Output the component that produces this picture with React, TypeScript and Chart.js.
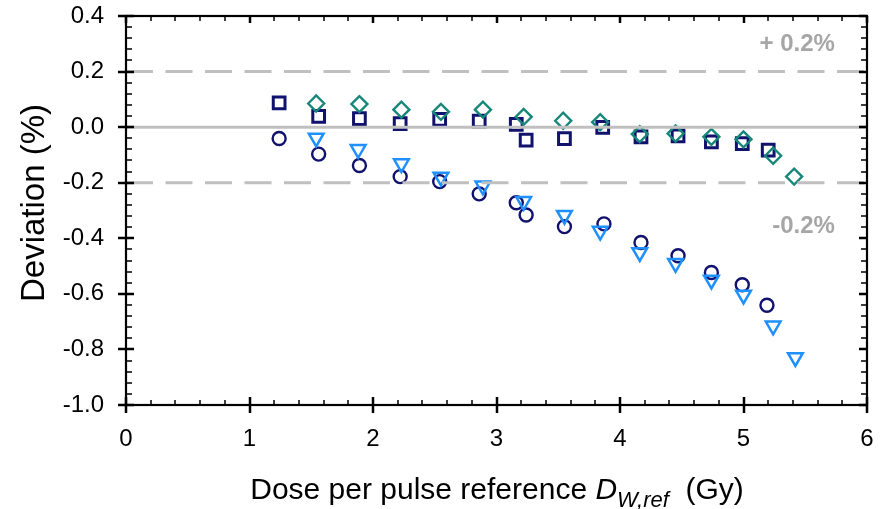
import React, { useEffect, useRef } from "react";
import { Chart, registerables } from "chart.js";
Chart.register(...registerables);

// ---- data ----
const xTicks = [0, 1, 2, 3, 4, 5, 6];
const yTicks = [0.4, 0.2, 0.0, -0.2, -0.4, -0.6, -0.8, -1.0];

const squaresX = [1.24, 1.56, 1.89, 2.22, 2.54, 2.86, 3.16, 3.24, 3.55, 3.86, 4.17, 4.47, 4.74, 4.99, 5.2];
const squaresY = [0.087, 0.039, 0.031, 0.013, 0.028, 0.022, 0.01, -0.047, -0.041, -0.001, -0.035, -0.031, -0.053, -0.059, -0.083];

const diamondsX = [1.54, 1.89, 2.23, 2.55, 2.89, 3.22, 3.54, 3.84, 4.16, 4.45, 4.74, 5.0, 5.24, 5.41];
const diamondsY = [0.085, 0.083, 0.063, 0.055, 0.063, 0.037, 0.023, 0.018, -0.025, -0.023, -0.035, -0.044, -0.103, -0.178];

const circlesX = [1.24, 1.56, 1.89, 2.22, 2.54, 2.86, 3.16, 3.24, 3.55, 3.87, 4.17, 4.47, 4.74, 4.99, 5.19];
const circlesY = [-0.041, -0.097, -0.138, -0.178, -0.196, -0.24, -0.272, -0.316, -0.358, -0.348, -0.415, -0.463, -0.523, -0.567, -0.641];

const trianglesX = [1.54, 1.88, 2.23, 2.55, 2.89, 3.22, 3.55, 3.84, 4.16, 4.45, 4.74, 5.0, 5.24, 5.42];
const trianglesY = [-0.039, -0.08, -0.131, -0.179, -0.211, -0.267, -0.317, -0.374, -0.451, -0.49, -0.55, -0.604, -0.715, -0.829];

const refLines = [0.2, 0.0, -0.2];
const refLabels = ["+ 0.2%", "-0.2%"];

const xTitleParts = ["Dose per pulse reference ", "D", "W,ref", "  (Gy)"];
const yTitle = "Deviation (%)";

const FONT = '"Liberation Sans", Arial, sans-serif';

const toPts = (xs: number[], ys: number[]) => xs.map((x, i) => ({ x, y: ys[i] }));

const framePlugin = {
  id: "frameDecor",
  afterDatasetsDraw(chart: any) {
    const ctx = chart.ctx as CanvasRenderingContext2D;
    const { left, right, top, bottom } = chart.chartArea;
    const xs = chart.scales.x;
    const ys = chart.scales.y;
    ctx.save();

    // reference lines
    ctx.strokeStyle = "#c0c0c0";
    ctx.lineWidth = 3;
    refLines.forEach((v) => {
      const py = ys.getPixelForValue(v);
      ctx.setLineDash(v === 0 ? [] : [27, 12.5]);
      ctx.beginPath();
      ctx.moveTo(left, py);
      ctx.lineTo(right, py);
      ctx.stroke();
    });
    ctx.setLineDash([]);

    // reference labels
    ctx.fillStyle = "#a6a6a6";
    ctx.font = `bold 24px ${FONT}`;
    ctx.textAlign = "right";
    ctx.textBaseline = "middle";
    ctx.fillText(refLabels[0], xs.getPixelForValue(5.74), ys.getPixelForValue(0.299));
    ctx.fillText(refLabels[1], xs.getPixelForValue(5.74), ys.getPixelForValue(-0.356));

    // frame
    ctx.strokeStyle = "#000";
    ctx.lineWidth = 2.2;
    ctx.strokeRect(left, top, right - left, bottom - top);

    // x ticks
    const xMin = xs.min, xMax = xs.max;
    const nx = Math.round((xMax - xMin) / 0.2);
    for (let i = 0; i <= nx; i++) {
      const v = xMin + i * 0.2;
      const px = Math.round(xs.getPixelForValue(v));
      const major = i % 5 === 0;
      ctx.lineWidth = major ? 2.5 : 1.5;
      ctx.beginPath();
      if (major) {
        ctx.moveTo(px, bottom - 8); ctx.lineTo(px, bottom + 8);
        ctx.moveTo(px, top); ctx.lineTo(px, top + 7);
      } else {
        ctx.moveTo(px, bottom - 5); ctx.lineTo(px, bottom);
        ctx.moveTo(px, top); ctx.lineTo(px, top + 5);
      }
      ctx.stroke();
    }
    // y ticks
    const yMin = ys.min, yMax = ys.max;
    const ny = Math.round((yMax - yMin) / 0.04);
    for (let i = 0; i <= ny; i++) {
      const v = yMin + i * 0.04;
      const py = Math.round(ys.getPixelForValue(v));
      const major = i % 5 === 0;
      ctx.lineWidth = major ? 2.5 : 1.5;
      ctx.beginPath();
      if (major) {
        ctx.moveTo(left - 8, py); ctx.lineTo(left + 8, py);
        ctx.moveTo(right - 8, py); ctx.lineTo(right, py);
      } else {
        ctx.moveTo(left, py); ctx.lineTo(left + 6, py);
        ctx.moveTo(right - 6, py); ctx.lineTo(right, py);
      }
      ctx.stroke();
    }

    // x title with italic subscript
    ctx.fillStyle = "#000";
    ctx.textAlign = "left";
    ctx.textBaseline = "alphabetic";
    const fN = `30px ${FONT}`;
    const fI = `italic 30px ${FONT}`;
    const fS = `italic 22px ${FONT}`;
    const parts = [
      { t: xTitleParts[0], f: fN, dy: 0 },
      { t: xTitleParts[1], f: fI, dy: 0 },
      { t: xTitleParts[2], f: fS, dy: 8 },
      { t: xTitleParts[3], f: fN, dy: 0 },
    ];
    let total = 0;
    parts.forEach((p) => { ctx.font = p.f; total += ctx.measureText(p.t).width; });
    const cx = 497;
    let x = cx - total / 2;
    const baseY = 499;
    parts.forEach((p) => {
      ctx.font = p.f;
      ctx.fillText(p.t, x, baseY + p.dy);
      x += ctx.measureText(p.t).width;
    });

    // y title
    ctx.save();
    ctx.translate(35, 203);
    ctx.rotate(-Math.PI / 2);
    ctx.textAlign = "center";
    ctx.textBaseline = "middle";
    ctx.font = `33px ${FONT}`;
    ctx.fillText(yTitle, 0, 0);
    ctx.restore();

    ctx.restore();
  },
};

export default function App() {
  const ref = useRef<HTMLCanvasElement | null>(null);
  useEffect(() => {
    if (!ref.current) return;
    const navy = "#11116e";
    const chart = new Chart(ref.current, {
      type: "scatter",
      data: {
        datasets: [
          {
            label: "triangles",
            data: toPts(trianglesX, trianglesY),
            pointStyle: "triangle",
            rotation: 180,
            radius: 8.5,
            borderColor: "#1e90ff",
            backgroundColor: "rgba(0,0,0,0)",
            borderWidth: 2.5,
          },
          {
            label: "diamonds",
            data: toPts(diamondsX, diamondsY),
            pointStyle: "rectRot",
            radius: 8,
            borderColor: "#168779",
            backgroundColor: "rgba(0,0,0,0)",
            borderWidth: 2.4,
          },
          {
            label: "circles",
            data: toPts(circlesX, circlesY),
            pointStyle: "circle",
            radius: 6.5,
            borderColor: navy,
            backgroundColor: "rgba(0,0,0,0)",
            borderWidth: 2.4,
          },
          {
            label: "squares",
            data: toPts(squaresX, squaresY),
            pointStyle: "rect",
            radius: 8.3,
            borderColor: navy,
            backgroundColor: "rgba(0,0,0,0)",
            borderWidth: 3,
          },
        ] as any,
      },
      options: {
        animation: false,
        responsive: true,
        maintainAspectRatio: false,
        layout: { padding: { left: 0, right: 20, top: 16, bottom: 0 } },
        plugins: { legend: { display: false }, tooltip: { enabled: false } },
        scales: {
          x: {
            type: "linear",
            min: xTicks[0],
            max: xTicks[xTicks.length - 1],
            grid: { display: false, drawTicks: false, tickLength: 0 },
            border: { display: false },
            afterBuildTicks: (s: any) => { s.ticks = xTicks.map((v) => ({ value: v })); },
            afterFit: (s: any) => { s.height = 104; s.paddingLeft = 0; s.paddingRight = 0; },
            ticks: {
              padding: 20,
              color: "#000",
              font: { family: FONT, size: 24 },
              callback: (v: any) => String(v),
            },
          },
          y: {
            type: "linear",
            min: yTicks[yTicks.length - 1],
            max: yTicks[0],
            grid: { display: false, drawTicks: false, tickLength: 0 },
            border: { display: false },
            afterBuildTicks: (s: any) => { s.ticks = yTicks.map((v) => ({ value: v })); },
            afterFit: (s: any) => { s.width = 126; s.paddingTop = 0; s.paddingBottom = 0; },
            ticks: {
              padding: 22,
              color: "#000",
              font: { family: FONT, size: 24 },
              callback: (v: any) => Number(v).toFixed(1),
            },
          },
        },
      } as any,
      plugins: [framePlugin],
    });
    return () => chart.destroy();
  }, []);
  return (
    <div style={{ position: "fixed", left: 0, top: 0, width: 887, height: 509, background: "#fff" }}>
      <canvas ref={ref} />
    </div>
  );
}
